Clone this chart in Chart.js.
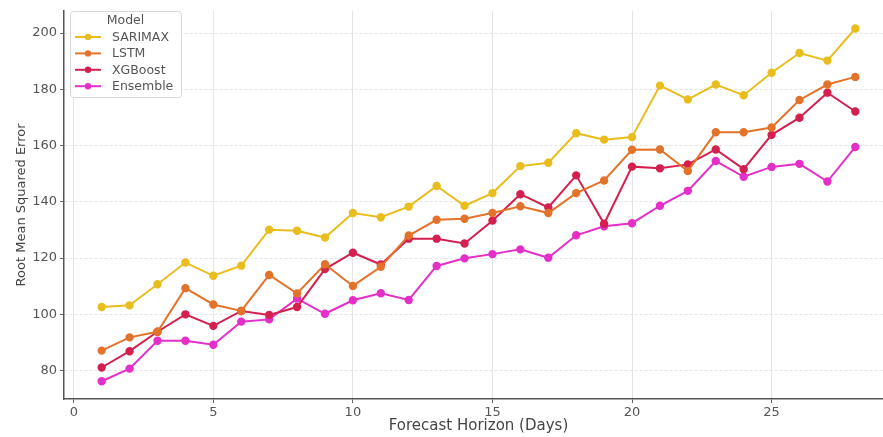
<!DOCTYPE html>
<html>
<head>
<meta charset="utf-8">
<script src="https://cdn.jsdelivr.net/npm/chart.js@4.4.1/dist/chart.umd.min.js"></script>
<style>
  html,body{margin:0;padding:0;background:#fff;overflow:hidden;}
  #wrap{width:900px;height:437px;position:relative;}
</style>
</head>
<body>
<div id="wrap"><canvas id="chart"></canvas></div>
<script>
// forecast horizon (days) and RMSE per model
const days = [1,2,3,4,5,6,7,8,9,10,11,12,13,14,15,16,17,18,19,20,21,22,23,24,25,26,27,28];
const sarimax  = [102.6,103.2,110.7,118.4,113.7,117.3,130.1,129.7,127.3,136.0,134.5,138.3,145.6,138.6,143.1,152.7,153.9,164.4,162.1,163.0,181.3,176.4,181.7,177.9,185.9,192.9,190.2,201.6];
const lstm     = [87.1,91.8,93.8,109.3,103.5,101.2,114.0,107.4,117.8,110.1,116.9,128.0,133.6,134.0,136.0,138.4,136.0,143.1,147.6,158.5,158.6,150.9,164.7,164.7,166.4,176.2,181.7,184.4];
const xgboost  = [81.1,86.9,93.8,100.0,95.9,101.2,99.8,102.6,116.1,121.9,117.7,126.9,126.9,125.2,133.3,142.7,138.0,149.4,132.2,152.5,151.9,153.3,158.6,151.6,163.8,169.9,178.8,172.1];
const ensemble = [76.2,80.7,90.6,90.6,89.2,97.4,98.2,105.6,100.2,105.0,107.5,105.1,117.2,119.9,121.4,123.1,120.1,128.1,131.3,132.4,138.6,143.9,154.5,148.9,152.4,153.5,147.2,159.5];
const modelNames = ['SARIMAX','LSTM','XGBoost','Ensemble'];
const xTicks = [0,5,10,15,20,25];
const yTicks = [80,100,120,140,160,180,200];

const colors = ['#e8bd1d','#e3732a','#d4204f','#e42fc9'];
const FONT = 'DejaVu Sans';
function el(id){return document.getElementById(id);}
function pts(arr){return days.map((d,i)=>({x:d,y:arr[i]}));}

const series=[sarimax,lstm,xgboost,ensemble];
const datasets=series.map((s,i)=>({
  label:modelNames[i], data:pts(s),
  borderColor:colors[i], backgroundColor:colors[i],
  borderWidth:2, pointRadius:3.2, pointHoverRadius:3.2, tension:0
}));

// legend box drawn inside the plot, top-left (matplotlib style)
const boxLegend={
  id:'boxLegend',
  afterDraw(chart){
    const c=chart.ctx;
    const x=70, y=11, w=111, h=86;
    c.save();
    c.fillStyle='rgba(255,255,255,0.85)';
    c.strokeStyle='#d8d8d8'; c.lineWidth=1;
    c.beginPath(); c.roundRect(x+0.5,y+0.5,w,h,3); c.fill(); c.stroke();
    c.fillStyle='#555'; c.font='12.5px "'+FONT+'"';
    c.textAlign='center'; c.textBaseline='middle';
    c.fillText('Model',x+w/2,y+10);
    c.textAlign='left';
    chart.data.datasets.forEach((ds,i)=>{
      const yy=y+26+i*16.4;
      c.strokeStyle=ds.borderColor; c.lineWidth=2;
      c.beginPath(); c.moveTo(x+5,yy); c.lineTo(x+31,yy); c.stroke();
      c.fillStyle=ds.borderColor;
      c.beginPath(); c.arc(x+18,yy,3.2,0,Math.PI*2); c.fill();
      c.fillStyle='#555';
      c.fillText(ds.label,x+42,yy+0.5);
    });
    c.restore();
  }
};

const gridOpts={color:'#e4e4e4', lineWidth:1, tickLength:4, tickColor:'#666', drawTicks:true};

new Chart(el('chart').getContext('2d'),{
  type:'line',
  data:{datasets},
  options:{
    responsive:true, maintainAspectRatio:false, animation:false,
    layout:{padding:{top:7,right:7,left:0,bottom:0}},
    plugins:{legend:{display:false}, tooltip:{enabled:false}},
    scales:{
      x:{
        type:'linear', min:-0.35, max:29.35,
        afterBuildTicks(s){s.ticks=xTicks.map(v=>({value:v}));},
        afterFit(s){s.height=38;},
        grid:{...gridOpts},
        border:{display:true,color:'#555',width:1.5},
        ticks:{color:'#555',font:{family:FONT,size:13},padding:2,maxRotation:0},
        title:{display:true,text:'Forecast Horizon (Days)',color:'#444',font:{family:FONT,size:15},padding:{top:0,bottom:2}}
      },
      y:{
        min:69.9, max:207.9,
        afterBuildTicks(s){s.ticks=yTicks.map(v=>({value:v}));},
        afterFit(s){s.width=64;},
        grid:{...gridOpts},
        border:{display:true,color:'#555',width:1.5,dash:[3,2]},
        ticks:{color:'#555',font:{family:FONT,size:13},padding:3},
        title:{display:true,text:'Root Mean Squared Error',color:'#444',font:{family:FONT,size:13},padding:{top:14,bottom:0}}
      }
    }
  },
  plugins:[boxLegend]
});
</script>
</body>
</html>
